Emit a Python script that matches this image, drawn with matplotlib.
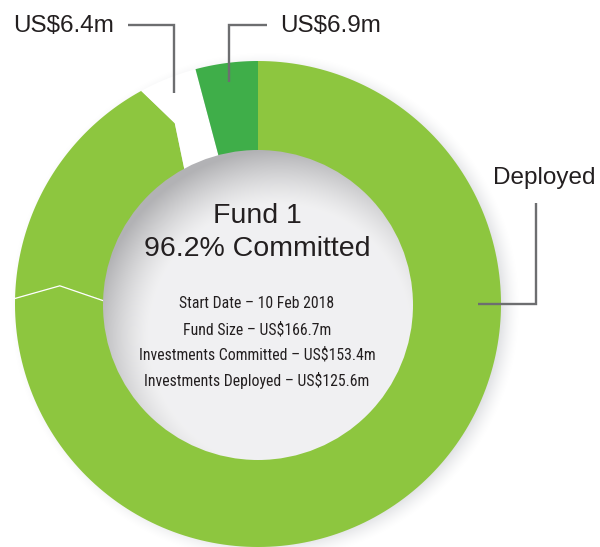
import numpy as np
import matplotlib
matplotlib.use('Agg')
import matplotlib.pyplot as plt
from matplotlib.patches import Polygon, Circle

# ---------------- data ----------------
segment_names = ['Deployed', 'Committed not deployed', 'US$6.4m', 'US$6.9m']
segment_values = [125.6, 27.8, 6.4, 6.9]
segment_colors = ['#8dc63f', '#8dc63f', '#ffffff', '#3fae49']
chevron_after = [True, True, False, False]   # boundary after segment drawn as chevron
label_texts = ['Deployed', None, 'US$6.4m', 'US$6.9m']
center_title = ['Fund 1', '96.2% Committed']
center_details = ['Start Date – 10 Feb 2018',
                  'Fund Size – US$166.7m',
                  'Investments Committed – US$153.4m',
                  'Investments Deployed – US$125.6m']

# ---------------- layout ----------------
W, H = 600, 547
fig = plt.figure(figsize=(W / 100, H / 100), dpi=100)
ax = fig.add_axes([0, 0, 1, 1])
ax.set_xlim(0, W)
ax.set_ylim(H, 0)
ax.axis('off')

cx, cy = 258.0, 304.0
R_out, R_in = 243.0, 155.0
R_mid = (R_out + R_in) / 2
kink = 4.0

def pt(phi, rad):
    a = np.radians(phi)
    return cx + rad * np.sin(a), cy - rad * np.cos(a)

# drop shadow of the ring
yy, xx = np.mgrid[0:H, 0:W] + 0.5
d = np.hypot(xx - (cx + 7), yy - (cy + 3))
blur = 12.0
alpha = np.clip((R_out + blur - d) / (2 * blur), 0, 1) ** 1.5 * 0.55
shadow = np.zeros((H, W, 4))
shadow[..., 0] = 0.70
shadow[..., 1] = 0.71
shadow[..., 2] = 0.74
shadow[..., 3] = alpha
ax.imshow(shadow, extent=(0, W, H, 0), zorder=0, interpolation='bilinear')

# ring segments
total = sum(segment_values)
angles = np.concatenate([[0], np.cumsum(segment_values) / total * 360])
n = len(segment_values)
for i in range(n):
    s, e = angles[i], angles[i + 1]
    start_chev = chevron_after[i - 1]
    end_chev = chevron_after[i]
    arc = np.linspace(s, e, 200)
    pts = [pt(a, R_out) for a in arc]
    pts.append(pt(e + (kink if end_chev else 0), R_mid))
    pts += [pt(a, R_in - 2) for a in arc[::-1]]
    pts.append(pt(s + (kink if start_chev else 0), R_mid))
    ax.add_patch(Polygon(pts, closed=True, facecolor=segment_colors[i],
                         edgecolor='none', zorder=2))

# white divider between deployed and committed
b = angles[1]
line = [pt(b, R_out + 1), pt(b + kink, R_mid), pt(b, R_in)]
ax.plot([p[0] for p in line], [p[1] for p in line], color='white', lw=0.9,
        zorder=3, solid_joinstyle='miter')

# inner circle with radial gradient (darker towards upper-left rim)
g = np.hypot(xx - (cx + 22), yy - (cy + 32)) / R_in
t = np.clip((g - 0.84) / 0.36, 0, 1) ** 1.3
light = np.array([0.945, 0.945, 0.950])
dark = np.array([0.70, 0.70, 0.71])
img = light[None, None, :] * (1 - t[..., None]) + dark[None, None, :] * t[..., None]
im = ax.imshow(img, extent=(0, W, H, 0), zorder=4, interpolation='bilinear')
clip = Circle((cx, cy + 1), R_in, transform=ax.transData)
im.set_clip_path(clip)

# leader lines and labels
lc = '#6d6e70'
lw = 1.7
txt = '#231f20'
font = 'Liberation Sans'
narrow = ['Roboto Condensed', 'Archivo Narrow', 'Liberation Sans']

mids = [(angles[i] + angles[i + 1]) / 2 for i in range(n)]
# US$6.4m
x0, y0 = pt(mids[2], 227)
ax.plot([128, x0, x0], [25, 25, y0], color=lc, lw=lw, zorder=5,
        solid_joinstyle='miter', solid_capstyle='butt')
ax.text(13, 32, label_texts[2], fontsize=17.5, family=font, color=txt,
        ha='left', va='baseline', zorder=6)
# US$6.9m
x1, y1 = pt(mids[3], 224)
ax.plot([267, x1, x1], [25, 25, y1], color=lc, lw=lw, zorder=5,
        solid_joinstyle='miter', solid_capstyle='butt')
ax.text(280, 32, label_texts[3], fontsize=17.5, family=font, color=txt,
        ha='left', va='baseline', zorder=6)
# Deployed
x2, y2 = pt(90, 220)
ax.plot([536, 536, x2], [203, y2, y2], color=lc, lw=lw, zorder=5,
        solid_joinstyle='miter', solid_capstyle='butt')
ax.text(493, 184, label_texts[0], fontsize=17.5, family=font, color=txt,
        ha='left', va='baseline', zorder=6)

# centre text
ax.text(257, 223, center_title[0], fontsize=20.5, family=font, color=txt,
        ha='center', va='baseline', zorder=6)
ax.text(257, 256, center_title[1], fontsize=20.5, family=font, color=txt,
        ha='center', va='baseline', zorder=6)
for k, s in enumerate(center_details):
    ax.text(257, 308.5 + k * 25.7, s, fontsize=11.3, family=narrow, color=txt,
            ha='center', va='baseline', zorder=6)

fig.savefig('out.png', dpi=100)
